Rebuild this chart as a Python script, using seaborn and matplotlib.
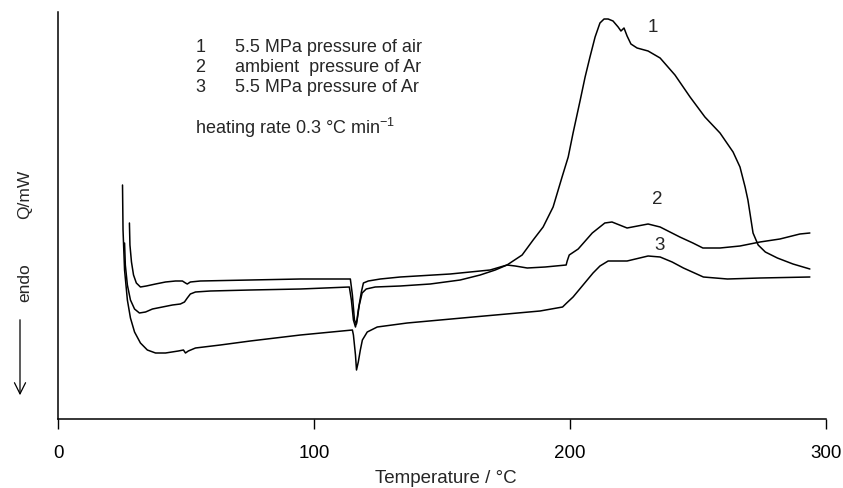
import numpy as np
import pandas as pd
import matplotlib
matplotlib.use("Agg")
import matplotlib.pyplot as plt
import seaborn as sns

# ---- data (temperature in °C, heat flow in arbitrary units) ----
t1 = [26.0, 26.3, 27.1, 28.3, 29.9, 31.8, 34.2, 36.9, 40.8, 44.7, 47.8, 49.4, 50.5, 51.7, 53.7, 59.5,
      75.1, 94.7, 113.8, 114.6, 115.4, 116.2, 116.9, 117.7, 118.8, 120.4, 123.9, 133.7, 145.4, 157.1,
      164.9, 170.8, 175.4, 181.3, 185.6, 189.5, 193.4, 196.9, 199.3, 201.2, 204.0, 205.9, 207.8, 209.8,
      211.7, 213.3, 214.9, 216.8, 218.8, 219.9, 221.1, 222.3, 223.8, 226.2, 230.5, 235.2, 241.0, 246.9,
      252.7, 258.6, 263.7, 266.4, 268.4, 269.5, 271.5, 273.5, 276.3, 281.0, 287.1, 293.7]
q1 = [176, 154, 134, 119, 110, 106, 107, 110, 112, 114, 115, 117, 121, 125, 127, 128,
      129, 130, 132, 119, 99, 92, 100, 114, 126, 130, 132, 133, 135, 139,
      144, 149, 154, 164, 179, 192, 212, 242, 262, 286, 319, 342, 362, 382,
      396, 400, 400, 398, 392, 388, 391, 383, 375, 371, 368, 361, 344, 322,
      302, 286, 267, 252, 232, 219, 186, 174, 167, 161, 155, 150]

t2 = [27.9, 28.1, 28.7, 29.5, 30.6, 32.2, 34.5, 38.1, 42.0, 45.9, 48.6, 49.8, 50.5, 51.7, 55.6,
      75.1, 94.7, 114.2, 115.0, 115.8, 116.6, 117.3, 118.5, 119.3, 121.2, 125.9, 133.7, 153.2, 168.8,
      175.4, 178.6, 183.3, 190.3, 198.5, 198.9, 199.7, 203.2, 208.7, 213.6, 216.4, 222.3, 230.5, 235.2,
      242.9, 248.0, 251.9, 258.6, 266.4, 274.2, 282.0, 289.8, 293.7]
q2 = [196, 174, 157, 144, 136, 132, 133, 135, 137, 138, 138, 136, 135, 137, 138,
      139, 140, 140, 124, 99, 95, 109, 127, 136, 138, 140, 142, 145, 149,
      154, 153, 151, 152, 154, 158, 164, 170, 186, 196, 197, 191, 195, 192,
      182, 176, 171, 171, 173, 177, 180, 185, 186]

t3 = [25.2, 25.4, 26.0, 27.1, 28.3, 29.9, 32.2, 34.9, 38.1, 42.0, 47.0, 49.0, 49.8, 50.9, 53.7,
      63.4, 75.1, 94.7, 115.0, 115.4, 116.2, 116.6, 117.3, 118.1, 118.9, 120.8, 124.7, 136.4, 162.2,
      188.3, 197.1, 198.7, 201.2, 205.1, 209.0, 211.7, 214.9, 222.3, 230.5, 235.2, 239.9, 244.3, 252.1,
      261.5, 274.2, 293.7]
q3 = [234, 189, 149, 119, 101, 87, 76, 69, 66, 66, 68, 69, 66, 68, 71,
      74, 78, 84, 89, 84, 64, 49, 57, 69, 79, 87, 92, 96, 102,
      108, 112, 116, 122, 134, 146, 153, 158, 158, 163, 162, 157, 151, 142,
      140, 141, 142]

curve_ids = ["1", "2", "3"]
legend_nums = ["1", "2", "3"]
legend_texts = ["5.5 MPa pressure of air", "ambient  pressure of Ar", "5.5 MPa pressure of Ar"]
heating_text = "heating rate 0.3 °C min$^{-1}$"
x_ticks = [0, 100, 200, 300]

df = pd.concat([
    pd.DataFrame({"T": t, "Q": q, "curve": c})
    for t, q, c in zip([t1, t2, t3], [q1, q2, q3], curve_ids)
], ignore_index=True)

sns.set_style("ticks")
plt.rcParams["font.family"] = ["Liberation Sans", "DejaVu Sans"]
plt.rcParams["mathtext.fontset"] = "custom"
plt.rcParams["mathtext.rm"] = "Liberation Sans"

fig = plt.figure(figsize=(8.43, 4.88), dpi=100)
ax = fig.add_axes([58 / 843, 1 - 419 / 488, (826 - 58) / 843, (419 - 12) / 488])

sns.lineplot(data=df, x="T", y="Q", units="curve", estimator=None, sort=False,
             color="black", linewidth=1.1, ax=ax, legend=False)

ax.set_xlim(0, 300)
ax.set_ylim(0, 407)
ax.set_xticks(x_ticks)
ax.set_xticklabels([str(v) for v in x_ticks], fontsize=13.5)
ax.set_yticks([])
ax.tick_params(axis="x", direction="out", length=7, width=1.0, pad=12, colors="black")
ax.set_xlabel("Temperature / °C", fontsize=13.5)
ax.xaxis.set_label_coords(0.505, -0.125)
ax.set_ylabel("")
for s in ["top", "right"]:
    ax.spines[s].set_visible(False)
for s in ["left", "bottom"]:
    ax.spines[s].set_color("black")
    ax.spines[s].set_linewidth(1.1)

# legend-like text block
for i, (n, txt) in enumerate(zip(legend_nums, legend_texts)):
    yq = 372 - 20 * i
    ax.text(53.7, yq, n, fontsize=13, ha="left", va="center")
    ax.text(69.3, yq, txt, fontsize=13, ha="left", va="center")
ax.text(53.7, 291, heating_text, fontsize=13, ha="left", va="center")

# curve labels
ax.text(232.4, 392, "1", fontsize=13.5, ha="center", va="center")
ax.text(234.0, 220, "2", fontsize=13.5, ha="center", va="center")
ax.text(234.8, 174, "3", fontsize=13.5, ha="center", va="center")

# y-axis annotation
fig.text(25 / 843, 1 - 194 / 488, "Q/mW", rotation=90, ha="center", va="center", fontsize=12.5)
fig.text(25 / 843, 1 - 283 / 488, "endo", rotation=90, ha="center", va="center", fontsize=12.5)
fig.add_artist(matplotlib.patches.FancyArrowPatch(
    (20 / 843, 1 - 317 / 488), (20 / 843, 1 - 398 / 488), transform=fig.transFigure,
    arrowstyle="->,head_length=8,head_width=4", color="black", linewidth=0.9))

fig.savefig("out.png", dpi=100)
